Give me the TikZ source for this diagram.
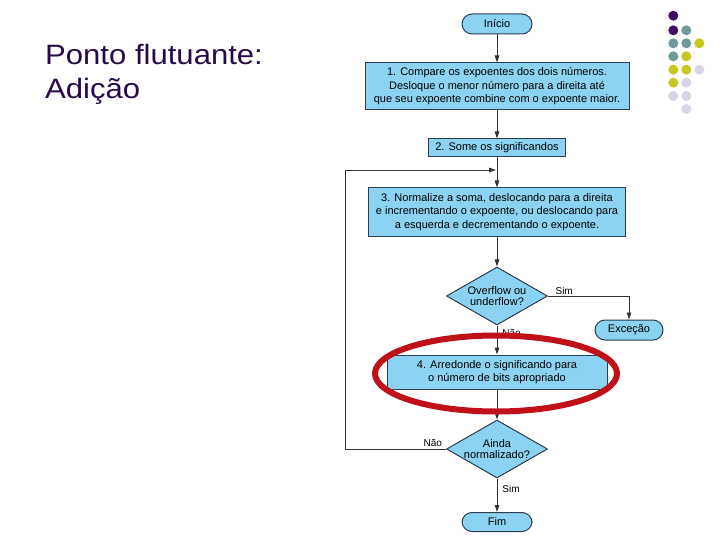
\documentclass[tikz,border=0pt]{standalone}
\usepackage{fontspec}
\setmainfont{Liberation Sans}
\newfontfamily\titlefont[FakeStretch=1.11]{Liberation Sans}
\usetikzlibrary{shapes.geometric,shapes.misc,arrows.meta}
\definecolor{boxblue}{RGB}{140,210,242}
\definecolor{boxline}{RGB}{45,62,78}
\definecolor{titlecol}{RGB}{40,10,72}
\definecolor{dpurple}{RGB}{62,16,100}
\definecolor{dteal}{RGB}{110,154,156}
\definecolor{dyellow}{RGB}{200,200,30}
\definecolor{dlav}{RGB}{214,214,232}
\definecolor{hlred}{RGB}{192,16,24}
\tikzset{
  proc/.style={rectangle, draw=boxline, fill=boxblue, line width=1pt, align=center,
    font=\fontsize{11}{13.5}\selectfont, inner sep=2pt},
  term/.style={rectangle, rounded corners=10pt, draw=boxline, fill=boxblue, line width=1pt,
    font=\fontsize{11}{13.5}\selectfont, minimum width=70pt, minimum height=20pt, inner sep=0pt},
  dec/.style={diamond, draw=boxline, fill=boxblue, line width=1pt, inner sep=0pt,
    minimum width=101pt, minimum height=58pt},
  dectext/.style={font=\fontsize{11}{11.5}\selectfont, align=center},
  conn/.style={draw=black!80, line width=0.9pt, -{Triangle[length=7pt,width=4.5pt]}},
  lbl/.style={font=\fontsize{10}{12}\selectfont, inner sep=1pt},
  dot/.style={circle, inner sep=0pt, minimum size=10pt},
  ttl/.style={anchor=base west, text=titlecol, font=\titlefont\fontsize{28}{36}\selectfont, inner sep=0pt}
}
\begin{document}
\begin{tikzpicture}[x=1pt,y=-1pt]
\useasboundingbox (0,0) rectangle (720,540);
% title
\node[ttl] (t1) at (45,65) {Ponto flutuante:};
\node[ttl] (t2) at (45,98.5) {Adição};
% dots
\node[dot,fill=dpurple] (p1) at (673.3,15.7) {};
\node[dot,fill=dpurple] (p2) at (673.3,30.3) {};
\node[dot,fill=dteal] (p3) at (686.3,30.3) {};
\node[dot,fill=dteal] (p4) at (673.3,43.3) {};
\node[dot,fill=dteal] (p5) at (686.3,43.3) {};
\node[dot,fill=dyellow] (p6) at (699.3,43.3) {};
\node[dot,fill=dteal] (p7) at (673.3,56.3) {};
\node[dot,fill=dyellow] (p8) at (686.3,56.3) {};
\node[dot,fill=dyellow] (p9) at (673.3,69.7) {};
\node[dot,fill=dyellow] (p10) at (686.3,69.7) {};
\node[dot,fill=dlav] (p11) at (699.3,69.7) {};
\node[dot,fill=dyellow] (p12) at (673.3,82.7) {};
\node[dot,fill=dlav] (p13) at (686.3,82.7) {};
\node[dot,fill=dlav] (p14) at (673.3,96) {};
\node[dot,fill=dlav] (p15) at (686.3,96) {};
\node[dot,fill=dlav] (p16) at (686.3,109) {};
% flowchart nodes
\node[term] (ini) at (497,24) {Início};
\node[proc, minimum width=264pt, minimum height=47pt] (b1) at (497,86.5)
  {1. Compare os expoentes dos dois números.\\Desloque o menor número para a direita até\\que seu expoente combine com o expoente maior.};
\node[proc, minimum width=137pt, minimum height=18pt] (b2) at (497,148) {2. Some os significandos};
\node[proc, minimum width=257pt, minimum height=48pt] (b3) at (497,212)
  {3. Normalize a soma, deslocando para a direita\\e incrementando o expoente, ou deslocando para\\a esquerda e decrementando o expoente.};
\node[dec, label={[dectext]center:{Overflow ou\\underflow?}}] (d1) at (497,296) {};
\node[term, minimum width=68pt] (exc) at (629,330) {Exceção};
\node[proc, minimum width=220pt, minimum height=34pt] (b4) at (497,372)
  {4. Arredonde o significando para\\o número de bits apropriado};
\node[dec, label={[dectext]center:{Ainda\\normalizado?}}] (d2) at (497,449) {};
\node[term, minimum height=19pt] (fim) at (497,522) {Fim};
\coordinate (fb) at (496,170);
\coordinate (lft) at (345,449);
% connectors
\draw[conn] (ini) -- (b1);
\draw[conn] (b1) -- (b2);
\draw[conn] (b2) -- (b3);
\draw[conn] (b3) -- (d1);
\draw[conn] (d1.east) -| node[lbl, pos=0.1, above] (ls1) {Sim} (exc.north);
\draw[conn] (d1) -- node[lbl, pos=0.25, right, xshift=4pt] (ln1) {Não} (b4);
\draw[conn] (b4) -- (d2);
\draw[conn] (d2.west) -- node[lbl, pos=0.13, above, yshift=1pt] (ln2) {Não} (lft) |- (fb);
\draw[conn] (d2) -- node[lbl, pos=0.3, right, xshift=4pt] (ls2) {Sim} (fim);
% highlight
\node[ellipse, draw=hlred, line width=6pt, minimum width=242pt, minimum height=76pt, inner sep=0pt] (hl) at (496,373.5) {};
\end{tikzpicture}
\end{document}
